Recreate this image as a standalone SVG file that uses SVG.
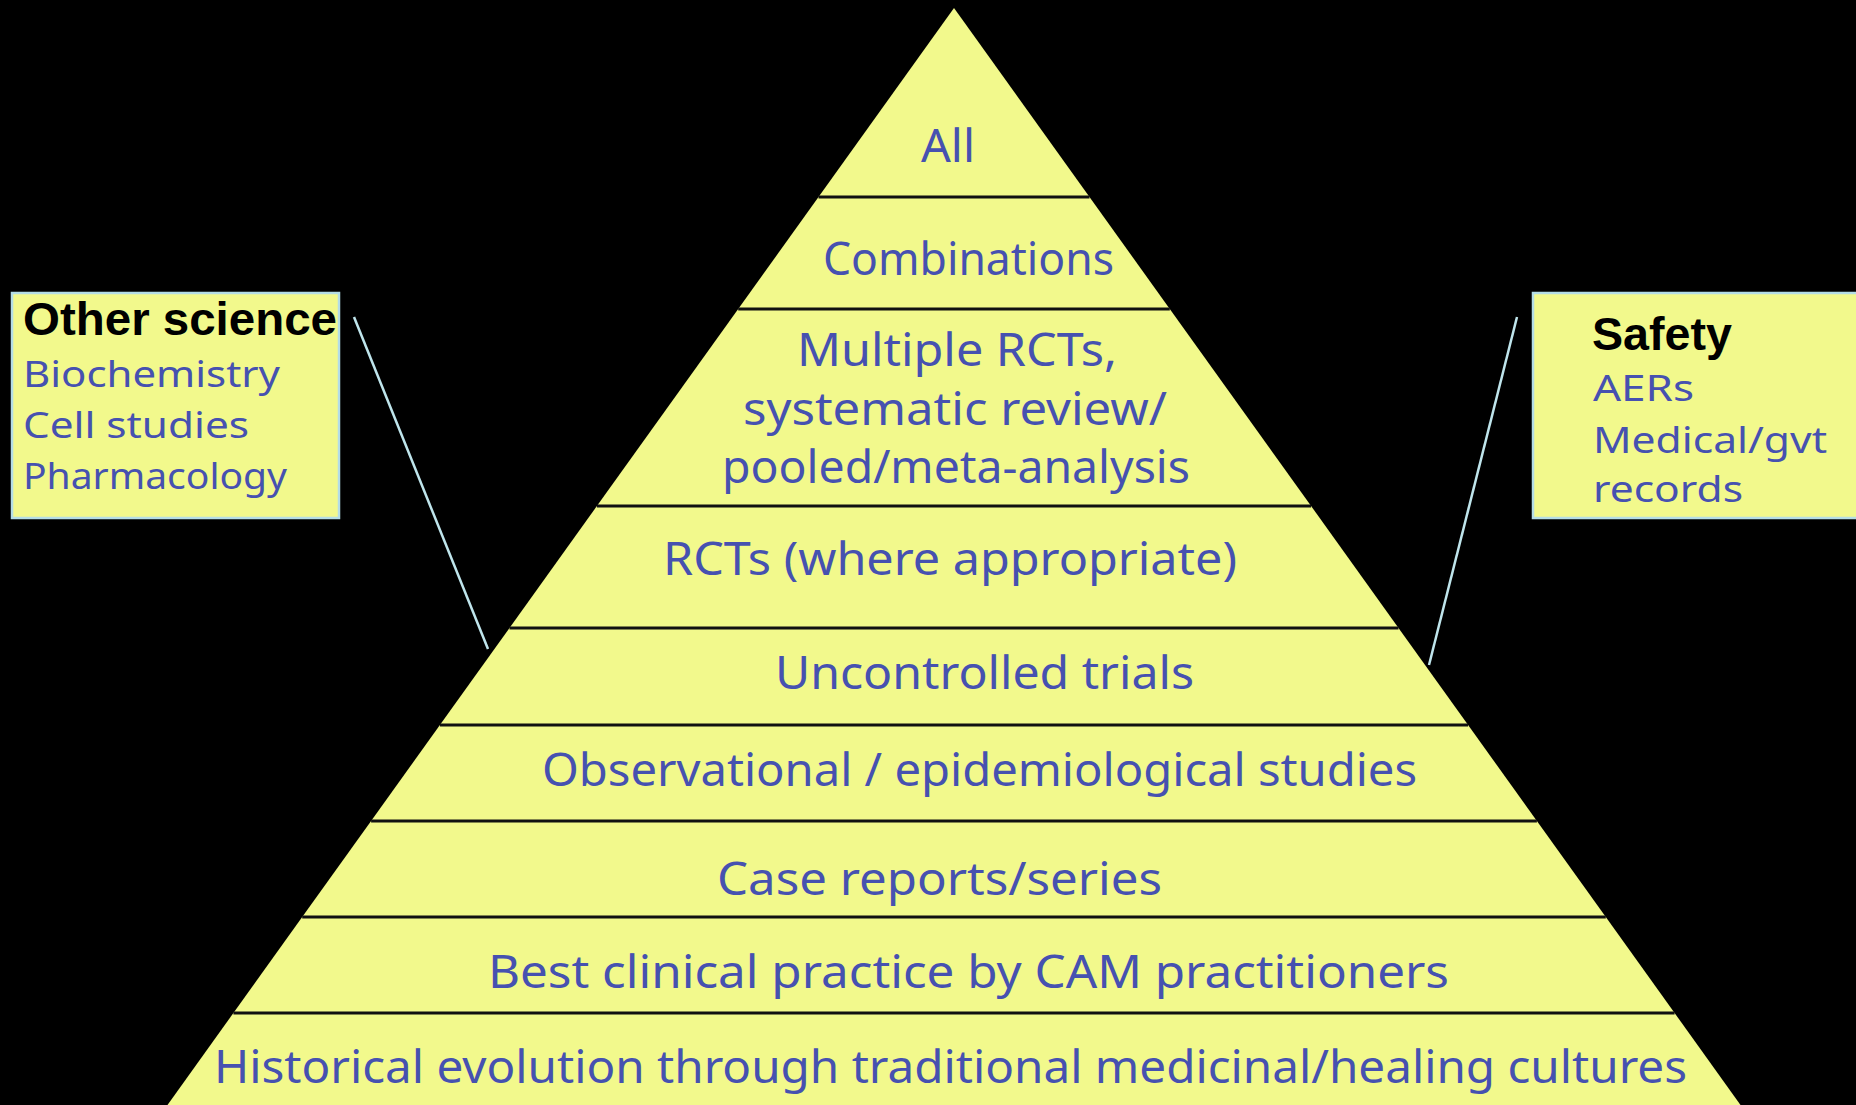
<svg xmlns="http://www.w3.org/2000/svg" width="1856" height="1105" viewBox="0 0 1856 1105">
<style>
.band{fill:#F2F98C;stroke:none}
.sep{stroke:#111111;stroke-width:3}
.lbl{font-family:"Noto Sans","DejaVu Sans",sans-serif;font-size:46px;fill:#4651B0}
.blbl{font-family:"Noto Sans","DejaVu Sans",sans-serif;font-size:37px;fill:#4651B0}
.head{font-family:"Liberation Sans",Arial,sans-serif;font-weight:bold;font-size:46px;fill:#000000}
.box{fill:#F2F98C;stroke:#B4DDE6;stroke-width:2.5}
.conn{stroke:#BFE5EC;stroke-width:2.5;fill:none}
</style>
<rect x="0" y="0" width="1856" height="1105" fill="#000000"/>
<g id="connectors">
<line class="conn" x1="354" y1="317" x2="488" y2="649"/>
<line class="conn" x1="1517" y1="317" x2="1429" y2="665"/>
</g>
<g id="level-all">
<polygon class="band" points="954,8 1089.5,197 818.5,197"/>
<text class="lbl" x="921" y="162" textLength="54" lengthAdjust="spacingAndGlyphs">All</text>
</g>
<g id="level-combinations">
<polygon class="band" points="818.5,197 1089.5,197 1169.8,309 738.2,309"/>
<line class="sep" x1="818.5" y1="197" x2="1089.5" y2="197"/>
<text class="lbl" x="823" y="275" textLength="291" lengthAdjust="spacingAndGlyphs">Combinations</text>
</g>
<g id="level-multiple-rcts">
<polygon class="band" points="738.2,309 1169.8,309 1311.1,506 596.9,506"/>
<line class="sep" x1="738.2" y1="309" x2="1169.8" y2="309"/>
<text class="lbl" x="797" y="366" textLength="320" lengthAdjust="spacingAndGlyphs">Multiple RCTs,</text>
<text class="lbl" x="743" y="425" textLength="424" lengthAdjust="spacingAndGlyphs">systematic review/</text>
<text class="lbl" x="722" y="483" textLength="468" lengthAdjust="spacingAndGlyphs">pooled/meta-analysis</text>
</g>
<g id="level-rcts">
<polygon class="band" points="596.9,506 1311.1,506 1398.5,628 509.5,628"/>
<line class="sep" x1="596.9" y1="506" x2="1311.1" y2="506"/>
<text class="lbl" x="663" y="575" textLength="574" lengthAdjust="spacingAndGlyphs">RCTs (where appropriate)</text>
</g>
<g id="level-uncontrolled">
<polygon class="band" points="509.5,628 1398.5,628 1468.1,725 439.9,725"/>
<line class="sep" x1="509.5" y1="628" x2="1398.5" y2="628"/>
<text class="lbl" x="775" y="689" textLength="419" lengthAdjust="spacingAndGlyphs">Uncontrolled trials</text>
</g>
<g id="level-observational">
<polygon class="band" points="439.9,725 1468.1,725 1536.9,821 371.1,821"/>
<line class="sep" x1="439.9" y1="725" x2="1468.1" y2="725"/>
<text class="lbl" x="542" y="786" textLength="875" lengthAdjust="spacingAndGlyphs">Observational / epidemiological studies</text>
</g>
<g id="level-case-reports">
<polygon class="band" points="371.1,821 1536.9,821 1605.8,917 302.2,917"/>
<line class="sep" x1="371.1" y1="821" x2="1536.9" y2="821"/>
<text class="lbl" x="717" y="895" textLength="445" lengthAdjust="spacingAndGlyphs">Case reports/series</text>
</g>
<g id="level-best-practice">
<polygon class="band" points="302.2,917 1605.8,917 1674.6,1013 233.4,1013"/>
<line class="sep" x1="302.2" y1="917" x2="1605.8" y2="917"/>
<text class="lbl" x="488" y="988" textLength="961" lengthAdjust="spacingAndGlyphs">Best clinical practice by CAM practitioners</text>
</g>
<g id="level-historical">
<polygon class="band" points="233.4,1013 1674.6,1013 1740.5,1105 167.5,1105"/>
<line class="sep" x1="233.4" y1="1013" x2="1674.6" y2="1013"/>
<text class="lbl" x="214" y="1083" textLength="1473" lengthAdjust="spacingAndGlyphs">Historical evolution through traditional medicinal/healing cultures</text>
</g>
<g id="box-other-science">
<rect class="box" x="12" y="293" width="327" height="225"/>
<text class="head" x="23" y="335" textLength="314" lengthAdjust="spacingAndGlyphs">Other science</text>
<text class="blbl" x="23" y="387" textLength="257" lengthAdjust="spacingAndGlyphs">Biochemistry</text>
<text class="blbl" x="23" y="438" textLength="226" lengthAdjust="spacingAndGlyphs">Cell studies</text>
<text class="blbl" x="23" y="489" textLength="264" lengthAdjust="spacingAndGlyphs">Pharmacology</text>
</g>
<g id="box-safety">
<rect class="box" x="1533" y="293" width="340" height="225"/>
<text class="head" x="1592" y="350" textLength="140" lengthAdjust="spacingAndGlyphs">Safety</text>
<text class="blbl" x="1593" y="401" textLength="101" lengthAdjust="spacingAndGlyphs">AERs</text>
<text class="blbl" x="1593" y="453" textLength="234" lengthAdjust="spacingAndGlyphs">Medical/gvt</text>
<text class="blbl" x="1593" y="502" textLength="150" lengthAdjust="spacingAndGlyphs">records</text>
</g>
</svg>
